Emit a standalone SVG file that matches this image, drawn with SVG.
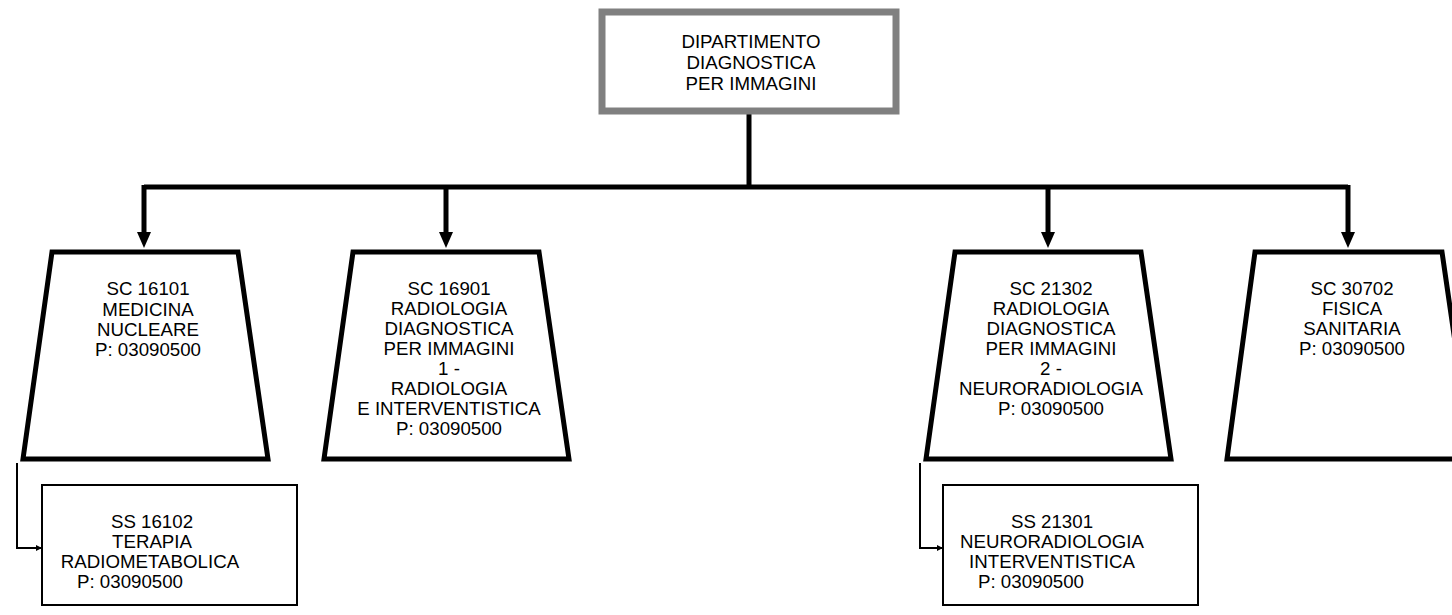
<svg xmlns="http://www.w3.org/2000/svg" width="1452" height="615" viewBox="0 0 1452 615">
<style>
  text { font-family: "Liberation Sans", Arial, sans-serif; font-size: 18.7px; fill: #000; text-anchor: middle; }
  .top { fill: #fff; stroke: #808080; stroke-width: 7; }
  .trap { fill: #fff; stroke: #000; stroke-width: 5; stroke-linejoin: miter; }
  .sub { fill: #fff; stroke: #000; stroke-width: 2; }
  .bus { fill: none; stroke: #000; stroke-width: 5; }
  .thin { fill: none; stroke: #000; stroke-width: 2; }
</style>
<defs>
  <marker id="arr" markerUnits="userSpaceOnUse" markerWidth="16" markerHeight="14" refX="0" refY="7" orient="auto" viewBox="0 0 16 14">
    <path d="M0,0 L16,7 L0,14 z" fill="#000"/>
  </marker>
  <marker id="arrs" markerUnits="userSpaceOnUse" markerWidth="6" markerHeight="6" refX="6" refY="3" orient="auto" viewBox="0 0 6 6">
    <path d="M0,0 L6,3 L0,6 z" fill="#000"/>
  </marker>
</defs>
<g id="connectors">
  <path class="bus" d="M749,114 V187"/>
  <path class="bus" d="M144,187 H1348"/>
  <path class="bus" d="M144,185 V232" marker-end="url(#arr)"/>
  <path class="bus" d="M446,187 V232" marker-end="url(#arr)"/>
  <path class="bus" d="M1048,187 V232" marker-end="url(#arr)"/>
  <path class="bus" d="M1348,185 V232" marker-end="url(#arr)"/>
  <path class="thin" d="M17,463 V548 H42" marker-end="url(#arrs)"/>
  <path class="thin" d="M920,463 V548 H943" marker-end="url(#arrs)"/>
</g>
<g id="node-dipartimento">
  <rect class="top" x="602" y="12" width="294" height="99"/>
  <text x="751" y="48">DIPARTIMENTO</text>
  <text x="751" y="69">DIAGNOSTICA</text>
  <text x="751" y="90">PER IMMAGINI</text>
</g>
<g id="node-sc16101">
  <polygon class="trap" points="52,252 238,252 268,459 23,459"/>
  <text x="148" y="295">SC 16101</text>
  <text x="148" y="315.5">MEDICINA</text>
  <text x="148" y="336">NUCLEARE</text>
  <text x="148" y="356">P: 03090500</text>
</g>
<g id="node-sc16901">
  <polygon class="trap" points="353,252 539,252 569,459 324,459"/>
  <text x="449" y="295">SC 16901</text>
  <text x="449" y="315">RADIOLOGIA</text>
  <text x="449" y="335">DIAGNOSTICA</text>
  <text x="449" y="355">PER IMMAGINI</text>
  <text x="449" y="375">1 -</text>
  <text x="449" y="395">RADIOLOGIA</text>
  <text x="449" y="415">E INTERVENTISTICA</text>
  <text x="449" y="435">P: 03090500</text>
</g>
<g id="node-sc21302">
  <polygon class="trap" points="955,252 1141,252 1171,459 926,459"/>
  <text x="1051" y="295">SC 21302</text>
  <text x="1051" y="315">RADIOLOGIA</text>
  <text x="1051" y="335">DIAGNOSTICA</text>
  <text x="1051" y="355">PER IMMAGINI</text>
  <text x="1051" y="375">2 -</text>
  <text x="1051" y="395">NEURORADIOLOGIA</text>
  <text x="1051" y="415">P: 03090500</text>
</g>
<g id="node-sc30702">
  <polygon class="trap" points="1255,252 1442,252 1472,459 1227,459"/>
  <text x="1352" y="295">SC 30702</text>
  <text x="1352" y="315">FISICA</text>
  <text x="1352" y="335">SANITARIA</text>
  <text x="1352" y="355">P: 03090500</text>
</g>
<g id="node-ss16102">
  <rect class="sub" x="42" y="485" width="255" height="120"/>
  <text x="152" y="528">SS 16102</text>
  <text x="152" y="548">TERAPIA</text>
  <text x="150" y="568">RADIOMETABOLICA</text>
  <text x="130" y="588">P: 03090500</text>
</g>
<g id="node-ss21301">
  <rect class="sub" x="943" y="485" width="255" height="120"/>
  <text x="1052" y="528">SS 21301</text>
  <text x="1052" y="548">NEURORADIOLOGIA</text>
  <text x="1052" y="568">INTERVENTISTICA</text>
  <text x="1031" y="588">P: 03090500</text>
</g>
</svg>
